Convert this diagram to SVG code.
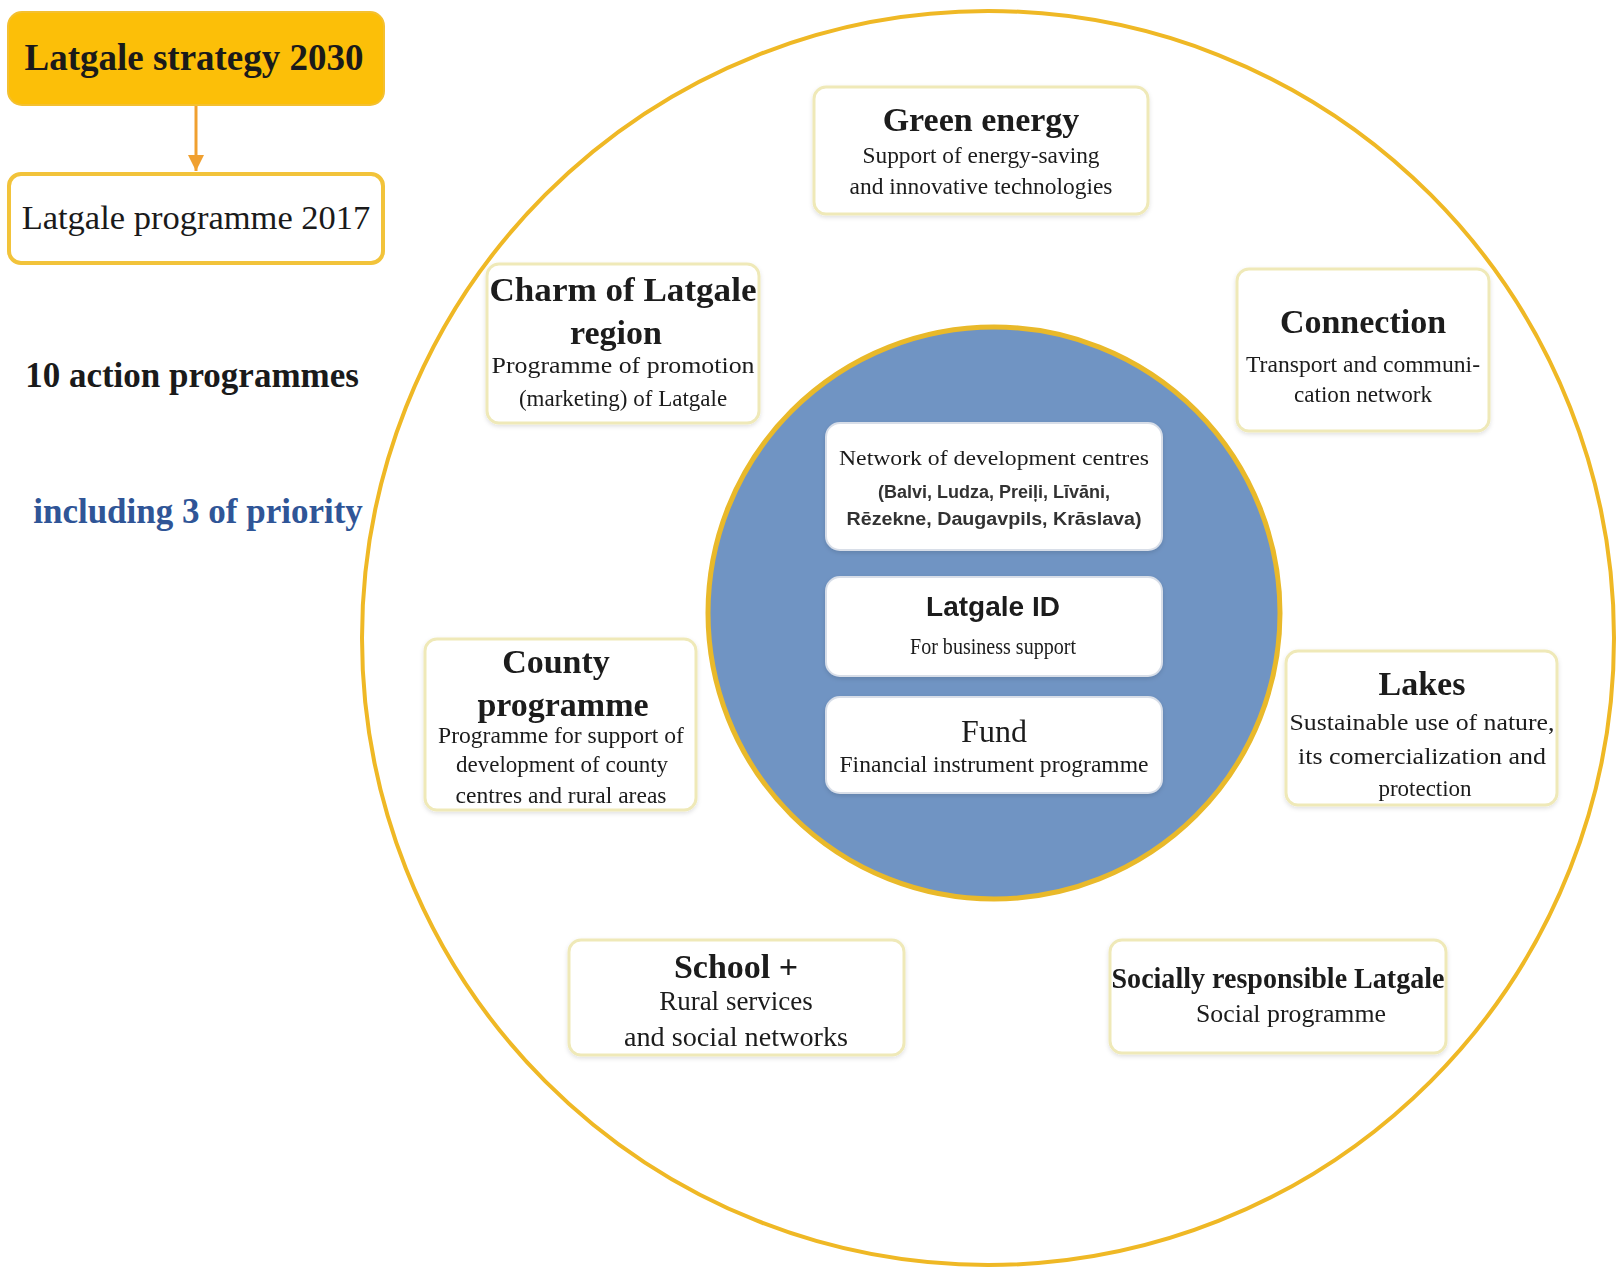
<svg xmlns="http://www.w3.org/2000/svg" width="1619" height="1279" viewBox="0 0 1619 1279">
<style>
.serif{font-family:"Liberation Serif","Times New Roman",serif;fill:#1a1a1a}
.sans{font-family:"Liberation Sans",Arial,sans-serif;fill:#1a1a1a}
.title{font-weight:bold;font-size:34px}
.sub{font-size:23px}
.box{fill:#ffffff;stroke:#EFE9B8;stroke-width:3}
.ibox{fill:#ffffff;stroke:#D8DEE8;stroke-width:2}
</style>
<defs>
<marker id="arr" markerWidth="16" markerHeight="16" refX="16" refY="8" orient="auto" markerUnits="userSpaceOnUse" viewBox="0 0 16 16">
<path d="M0,0 L16,8 L0,16 z" fill="#F0A030"/>
</marker>
<filter id="sh" x="-5%" y="-5%" width="110%" height="115%">
<feDropShadow dx="0" dy="2" stdDeviation="2" flood-color="#000" flood-opacity="0.12"/>
</filter>
</defs>
<rect width="1619" height="1279" fill="#ffffff"/>

<g id="outer-circle">
<ellipse cx="988" cy="638" rx="626" ry="627" fill="#ffffff" stroke="#EFB825" stroke-width="4"/>
</g>
<g id="inner-circle">
<circle cx="994" cy="613" r="286" fill="#7094C3" stroke="#E9B92A" stroke-width="5"/>
</g>

<g id="connectors">
<line x1="196" y1="106" x2="196" y2="171" stroke="#F0A030" stroke-width="3" marker-end="url(#arr)"/>
</g>

<g id="strategy">
<rect x="8" y="12" width="376" height="93" rx="14" fill="#FCBF08" stroke="#F4C030" stroke-width="2"/>
<text x="194" y="70" text-anchor="middle" class="serif" font-weight="bold" font-size="37">Latgale strategy 2030</text>
</g>

<g id="programme2017">
<rect x="9" y="174" width="374" height="89" rx="12" fill="#ffffff" stroke="#F2C33A" stroke-width="4"/>
<text x="196" y="229" text-anchor="middle" class="serif" font-size="34.5">Latgale programme 2017</text>
</g>

<g id="action-programmes">
<text x="192" y="387" text-anchor="middle" class="serif" font-weight="bold" font-size="35">10 action programmes</text>
</g>

<g id="priority">
<text x="198" y="523" text-anchor="middle" class="serif" font-weight="bold" font-size="35" style="fill:#2F5597">including 3 of priority</text>
</g>

<g id="green-energy" filter="url(#sh)">
<rect class="box" x="814" y="87" width="334" height="127" rx="12"/>
<text x="981" y="131" text-anchor="middle" class="serif title">Green energy</text>
<text x="981" y="163" text-anchor="middle" class="serif sub" textLength="237" lengthAdjust="spacingAndGlyphs">Support of energy-saving</text>
<text x="981" y="194" text-anchor="middle" class="serif sub" textLength="263" lengthAdjust="spacingAndGlyphs">and innovative technologies</text>
</g>

<g id="charm" filter="url(#sh)">
<rect class="box" x="487" y="264" width="272" height="159" rx="12"/>
<text x="623" y="301" text-anchor="middle" class="serif title" textLength="267" lengthAdjust="spacingAndGlyphs">Charm of Latgale</text>
<text x="616" y="344" text-anchor="middle" class="serif title">region</text>
<text x="623" y="373" text-anchor="middle" class="serif sub" textLength="263" lengthAdjust="spacingAndGlyphs">Programme of promotion</text>
<text x="623" y="406" text-anchor="middle" class="serif sub">(marketing) of Latgale</text>
</g>

<g id="connection" filter="url(#sh)">
<rect class="box" x="1237" y="269" width="252" height="162" rx="12"/>
<text x="1363" y="333" text-anchor="middle" class="serif title">Connection</text>
<text x="1363" y="372" text-anchor="middle" class="serif sub" textLength="234" lengthAdjust="spacingAndGlyphs">Transport and communi-</text>
<text x="1363" y="402" text-anchor="middle" class="serif sub" textLength="138" lengthAdjust="spacingAndGlyphs">cation network</text>
</g>

<g id="development-centres" filter="url(#sh)">
<rect class="ibox" x="826" y="423" width="336" height="127" rx="14"/>
<text x="994" y="465" text-anchor="middle" class="serif" font-size="22" textLength="310" lengthAdjust="spacingAndGlyphs">Network of development centres</text>
<text x="994" y="498" text-anchor="middle" class="sans" font-weight="bold" font-size="18" style="fill:#333">(Balvi, Ludza, Preiļi, Līvāni,</text>
<text x="994" y="525" text-anchor="middle" class="sans" font-weight="bold" font-size="18" style="fill:#333" textLength="295" lengthAdjust="spacingAndGlyphs">Rēzekne, Daugavpils, Krāslava)</text>
</g>

<g id="latgale-id" filter="url(#sh)">
<rect class="ibox" x="826" y="577" width="336" height="99" rx="14"/>
<text x="993" y="616" text-anchor="middle" class="sans" font-weight="bold" font-size="28">Latgale ID</text>
<text x="993" y="654" text-anchor="middle" class="serif" font-size="23" textLength="166" lengthAdjust="spacingAndGlyphs">For business support</text>
</g>

<g id="fund" filter="url(#sh)">
<rect class="ibox" x="826" y="697" width="336" height="96" rx="14"/>
<text x="994" y="742" text-anchor="middle" class="serif" font-size="32">Fund</text>
<text x="994" y="772" text-anchor="middle" class="serif" font-size="23" textLength="309" lengthAdjust="spacingAndGlyphs">Financial instrument programme</text>
</g>

<g id="county" filter="url(#sh)">
<rect class="box" x="425" y="639" width="271" height="171" rx="12"/>
<text x="556" y="673" text-anchor="middle" class="serif title">County</text>
<text x="563" y="716" text-anchor="middle" class="serif title">programme</text>
<text x="561" y="743" text-anchor="middle" class="serif sub" textLength="246" lengthAdjust="spacingAndGlyphs">Programme for support of</text>
<text x="562" y="772" text-anchor="middle" class="serif sub">development of county</text>
<text x="561" y="803" text-anchor="middle" class="serif sub" textLength="211" lengthAdjust="spacingAndGlyphs">centres and rural areas</text>
</g>

<g id="lakes" filter="url(#sh)">
<rect class="box" x="1286" y="651" width="271" height="154" rx="12"/>
<text x="1422" y="695" text-anchor="middle" class="serif title">Lakes</text>
<text x="1422" y="730" text-anchor="middle" class="serif sub" textLength="265" lengthAdjust="spacingAndGlyphs">Sustainable use of nature,</text>
<text x="1422" y="764" text-anchor="middle" class="serif sub" textLength="248" lengthAdjust="spacingAndGlyphs">its comercialization and</text>
<text x="1425" y="796" text-anchor="middle" class="serif sub">protection</text>
</g>

<g id="school" filter="url(#sh)">
<rect class="box" x="569" y="940" width="335" height="115" rx="12"/>
<text x="736" y="978" text-anchor="middle" class="serif title">School +</text>
<text x="736" y="1010" text-anchor="middle" class="serif" font-size="27">Rural services</text>
<text x="736" y="1046" text-anchor="middle" class="serif" font-size="27" textLength="224" lengthAdjust="spacingAndGlyphs">and social networks</text>
</g>

<g id="socially" filter="url(#sh)">
<rect class="box" x="1110" y="940" width="336" height="113" rx="12"/>
<text x="1278" y="988" text-anchor="middle" class="serif" font-weight="bold" font-size="29" textLength="333" lengthAdjust="spacingAndGlyphs">Socially responsible Latgale</text>
<text x="1291" y="1022" text-anchor="middle" class="serif" font-size="25" textLength="190" lengthAdjust="spacingAndGlyphs">Social programme</text>
</g>
</svg>
